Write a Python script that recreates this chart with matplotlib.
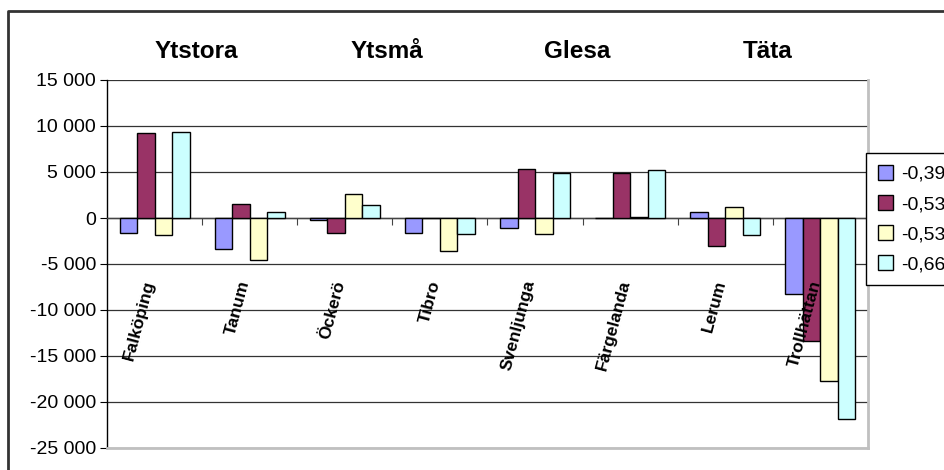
import numpy as np
import matplotlib.pyplot as plt
from matplotlib.lines import Line2D
from matplotlib.ticker import FuncFormatter, FixedLocator

plt.rcParams['font.family'] = ['Liberation Sans', 'DejaVu Sans']

kommuner = ['Falköping', 'Tanum', 'Öckerö', 'Tibro',
            'Svenljunga', 'Färgelanda', 'Lerum', 'Trollhättan']
grupper = ['Ytstora', 'Ytsmå', 'Glesa', 'Täta']
serier = ['-0,39', '-0,53', '-0,53', '-0,66']

s1 = [-1600, -3400, -200, -1600, -1100, 0, 700, -8300]
s2 = [9200, 1500, -1600, 0, 5300, 4850, -3000, -13400]
s3 = [-1900, -4600, 2600, -3550, -1700, 100, 1150, -17700]
s4 = [9400, 600, 1450, -1700, 4850, 5200, -1900, -21800]

farger = ['#9999FF', '#993366', '#FFFFCC', '#CCFFFF']

fig = plt.figure(figsize=(9.45, 4.70), dpi=100)
ax = fig.add_axes([107 / 945, 1 - 448 / 470, 761 / 945, 368 / 470])

x = np.arange(len(kommuner))
w = 0.184
for i, (vals, c, lab) in enumerate(zip([s1, s2, s3, s4], farger, serier)):
    ax.bar(x + (i - 1.5) * w, vals, w, color=c, edgecolor='black',
           linewidth=1, label=lab, zorder=3)

ax.set_xlim(-0.5, len(kommuner) - 0.5)
ax.set_ylim(-25000, 15000)
ax.yaxis.set_major_locator(FixedLocator(np.arange(-25000, 15001, 5000)))
ax.yaxis.set_major_formatter(
    FuncFormatter(lambda v, p: f"{int(v):,}".replace(',', ' ')))
ax.tick_params(axis='y', labelsize=14, length=5, direction='out',
               color='black', pad=3)
ax.grid(axis='y', color='#333333', linewidth=0.9, zorder=1)

# x-axis runs along zero with marks between categories
ax.spines['bottom'].set_position(('data', 0))
ax.spines['bottom'].set_color('#444444')
ax.spines['bottom'].set_linewidth(1)
ax.set_xticks(np.arange(0.5, len(kommuner) - 0.5, 1))
ax.set_xticklabels([])
ax.tick_params(axis='x', length=5, direction='out', color='#444444')
ax.spines['top'].set_visible(False)
ax.spines['left'].set_linewidth(1)
ax.spines['right'].set_color('#c0c0c0')
ax.spines['right'].set_linewidth(2)
ax.axhline(-25000, color='#c0c0c0', linewidth=2, zorder=4, clip_on=False)

for xi, name in zip(x, kommuner):
    ax.text(xi + 0.03, -6600, name, rotation=75, ha='right', va='top',
            fontsize=12.5, fontweight='bold', zorder=5)

# group headings above each pair of kommuner
trans = ax.get_xaxis_transform()
for k, g in enumerate(grupper):
    ax.text(2 * k + 0.44, 1 + 29 / 368, g, transform=trans, ha='center',
            va='center', fontsize=17.5, fontweight='bold')

# chart frame
fig.add_artist(Line2D([8 / 945, 8 / 945, 1.01], [-0.01, 1 - 11 / 470, 1 - 11 / 470],
                      transform=fig.transFigure, color='#333333', linewidth=2))

fig.legend(loc='upper left', bbox_to_anchor=(866 / 945, 1 - 153 / 470),
           borderaxespad=0, fontsize=14, frameon=True, fancybox=False,
           edgecolor='black', framealpha=1, handlelength=0.8,
           handleheight=0.8, handletextpad=0.4, labelspacing=0.62,
           borderpad=0.6)

fig.savefig('out.png', dpi=100)
